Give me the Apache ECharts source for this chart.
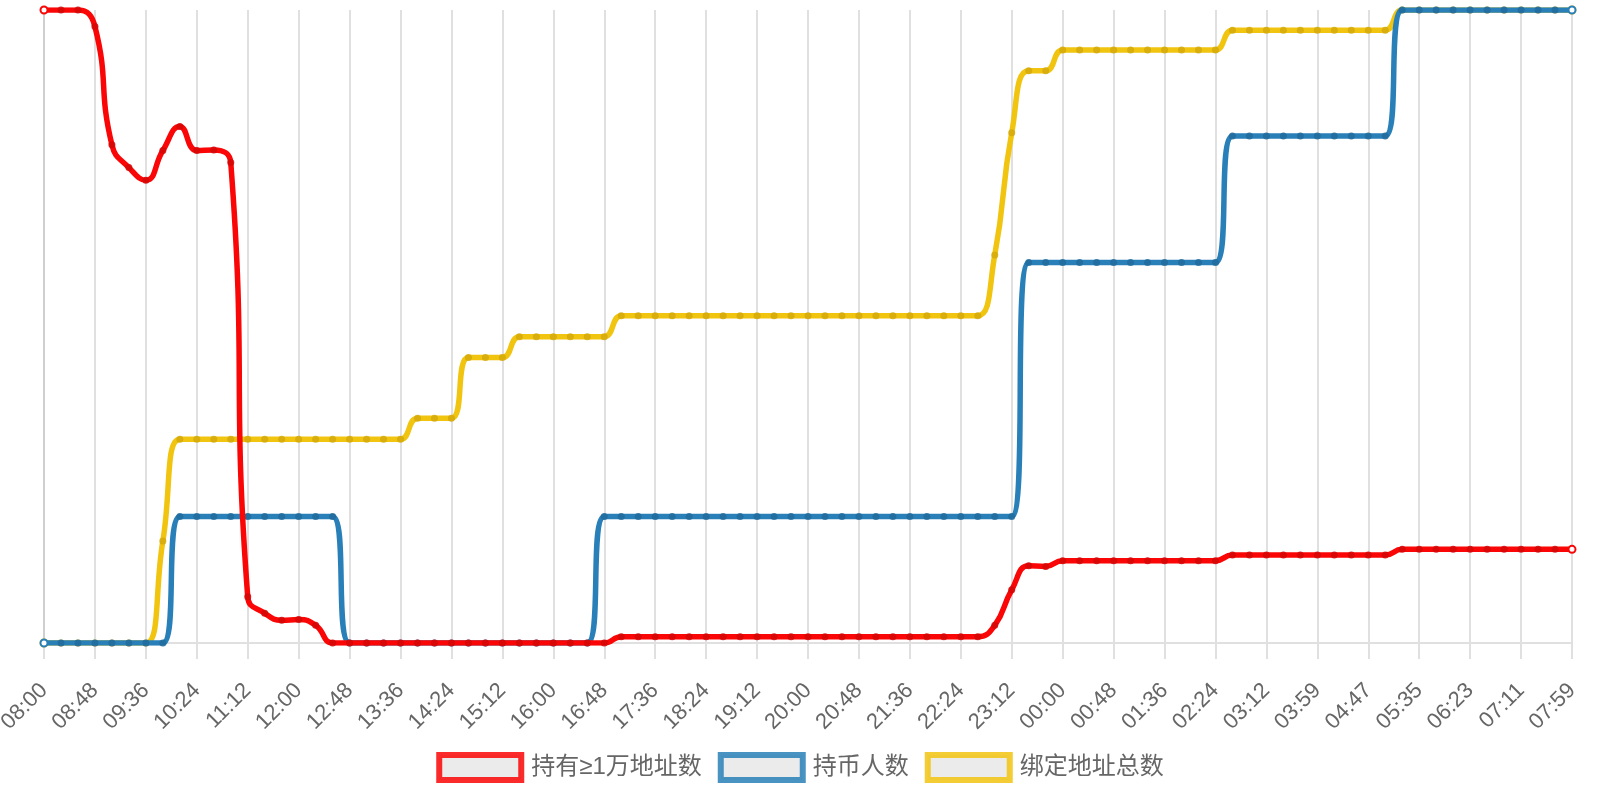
<!DOCTYPE html>
<html>
<head>
<meta charset="utf-8">
<script src="https://cdn.jsdelivr.net/npm/echarts@6/dist/echarts.min.js"></script>
<style>
html,body{margin:0;padding:0;background:#fff;}
#chart{width:1600px;height:800px;}
</style>
</head>
<body>
<div id="chart"></div>
<script>
const categories = [
  '08:00','08:16','08:32','08:48','09:04','09:20','09:36','09:52','10:08','10:24',
  '10:40','10:56','11:12','11:28','11:44','12:00','12:16','12:32','12:48','13:04',
  '13:20','13:36','13:52','14:08','14:24','14:40','14:56','15:12','15:28','15:44',
  '16:00','16:16','16:32','16:48','17:04','17:20','17:36','17:52','18:08','18:24',
  '18:40','18:56','19:12','19:28','19:44','20:00','20:16','20:32','20:48','21:04',
  '21:20','21:36','21:52','22:08','22:24','22:40','22:56','23:12','23:28','23:44',
  '00:00','00:16','00:32','00:48','01:04','01:20','01:36','01:52','02:08','02:24',
  '02:40','02:56','03:12','03:28','03:43','03:59','04:15','04:31','04:47','05:03',
  '05:19','05:35','05:51','06:07','06:23','06:39','06:55','07:11','07:27','07:43',
  '07:59'
];

const seriesNames = ['持有≥1万地址数', '持币人数', '绑定地址总数'];

// 持有≥1万地址数 (relative scale 0-100)
const holders10k = [
  100,100,100,97.4,78.7,75.1,73.1,77.8,81.6,77.8,
  77.9,75.9,7.3,4.7,3.6,3.7,2.8,0,0,0,
  0,0,0,0,0,0,0,0,0,0,
  0,0,0,0,1.0,1.0,1.0,1.0,1.0,1.0,
  1.0,1.0,1.0,1.0,1.0,1.0,1.0,1.0,1.0,1.0,
  1.0,1.0,1.0,1.0,1.0,1.0,2.8,8.4,12.2,12.1,
  13.0,13.0,13.0,13.0,13.0,13.0,13.0,13.0,13.0,13.0,
  13.9,13.9,13.9,13.9,13.9,13.9,13.9,13.9,13.9,13.9,
  14.8,14.8,14.8,14.8,14.8,14.8,14.8,14.8,14.8,14.8,
  14.8
];

// 持币人数
const coinHolders = [
  0,0,0,0,0,0,0,0,20.0,20.0,
  20.0,20.0,20.0,20.0,20.0,20.0,20.0,20.0,0,0,
  0,0,0,0,0,0,0,0,0,0,
  0,0,0,20.0,20.0,20.0,20.0,20.0,20.0,20.0,
  20.0,20.0,20.0,20.0,20.0,20.0,20.0,20.0,20.0,20.0,
  20.0,20.0,20.0,20.0,20.0,20.0,20.0,20.0,60.1,60.1,
  60.1,60.1,60.1,60.1,60.1,60.1,60.1,60.1,60.1,60.1,
  80.1,80.1,80.1,80.1,80.1,80.1,80.1,80.1,80.1,80.1,
  100,100,100,100,100,100,100,100,100,100,
  100
];

// 绑定地址总数
const boundAddresses = [
  0,0,0,0,0,0,0,16.1,32.2,32.2,
  32.2,32.2,32.2,32.2,32.2,32.2,32.2,32.2,32.2,32.2,
  32.2,32.2,35.5,35.5,35.5,45.1,45.1,45.1,48.4,48.4,
  48.4,48.4,48.4,48.4,51.7,51.7,51.7,51.7,51.7,51.7,
  51.7,51.7,51.7,51.7,51.7,51.7,51.7,51.7,51.7,51.7,
  51.7,51.7,51.7,51.7,51.7,51.7,61.3,80.6,90.4,90.4,
  93.7,93.7,93.7,93.7,93.7,93.7,93.7,93.7,93.7,93.7,
  96.8,96.8,96.8,96.8,96.8,96.8,96.8,96.8,96.8,96.8,
  100,100,100,100,100,100,100,100,100,100,
  100
];

const colors = ['#fa0606', '#2980b9', '#f1c40f'];
const dotColors = ['#d40808', '#216b9c', '#d4a90c'];
const FONT = "'Liberation Sans', 'Noto Sans CJK SC', sans-serif";

function withEnds(arr, color) {
  const last = arr.length - 1;
  return arr.map((v, i) => (i === 0 || i === last)
    ? { value: v, symbol: 'emptyCircle', symbolSize: 7, itemStyle: { color: color, borderWidth: 1.5, opacity: 1 } }
    : v);
}

function makeSeries(idx, data, z) {
  return {
    name: seriesNames[idx],
    type: 'line',
    data: withEnds(data, colors[idx]),
    smooth: 0.5,
    z: z,
    symbol: 'circle',
    symbolSize: 7,
    showSymbol: true,
    showAllSymbol: true,
    lineStyle: { color: colors[idx], width: 5.5 },
    itemStyle: { color: dotColors[idx], opacity: 0.85 },
    emphasis: { disabled: true },
    animation: false
  };
}

const chart = echarts.init(document.getElementById('chart'));
chart.setOption({
  animation: false,
  backgroundColor: '#fff',
  textStyle: { fontFamily: FONT },
  grid: { left: 44, right: 28, top: 10, bottom: 157, containLabel: false, outerBoundsMode: 'none' },
  legend: {
    top: 747,
    left: 'center',
    itemWidth: 82,
    itemHeight: 25,
    itemGap: 16,
    icon: 'rect',
    textStyle: { color: '#666', fontSize: 24, fontFamily: FONT, padding: [0, 0, 0, 5] },
    data: seriesNames.map((n, i) => ({
      name: n,
      icon: 'rect',
      itemStyle: { color: '#e8e8e8', borderColor: colors[i], borderWidth: 6 }
    }))
  },
  xAxis: {
    type: 'category',
    data: categories,
    boundaryGap: false,
    axisLine: { show: true, lineStyle: { color: '#e0e0e0', width: 2 } },
    axisTick: { show: true, interval: 2, length: 16, lineStyle: { color: '#e0e0e0', width: 2 } },
    axisLabel: { interval: 2, rotate: 45, margin: 44, color: '#666', fontSize: 22, fontFamily: FONT },
    splitLine: { show: true, interval: 2, lineStyle: { color: '#e0e0e0', width: 2 } }
  },
  yAxis: {
    type: 'value',
    min: 0,
    max: 100,
    axisLine: { show: true, lineStyle: { color: '#cfcfcf', width: 2 } },
    axisTick: { show: false },
    axisLabel: { show: false },
    splitLine: { show: false }
  },
  series: [
    makeSeries(0, holders10k, 5),
    makeSeries(1, coinHolders, 4),
    makeSeries(2, boundAddresses, 3)
  ]
});
</script>
</body>
</html>
